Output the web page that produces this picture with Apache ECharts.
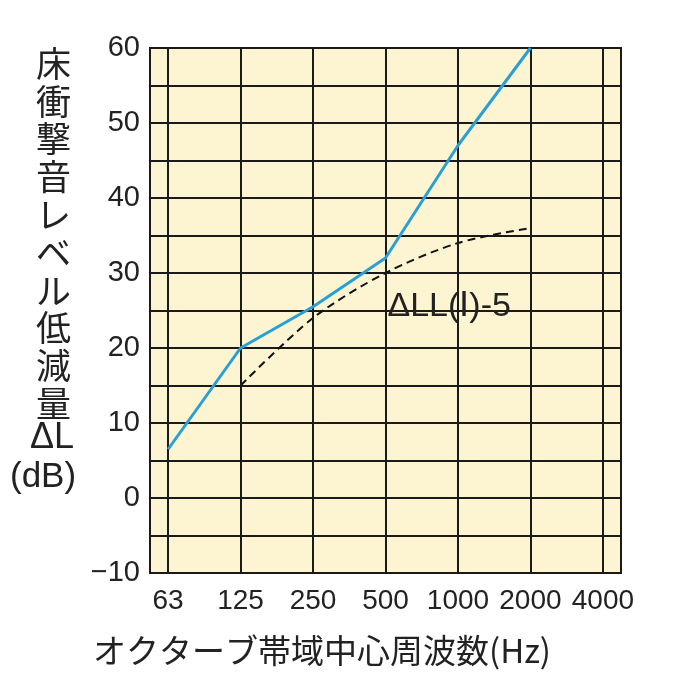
<!DOCTYPE html>
<html><head><meta charset="utf-8">
<script src="https://cdn.jsdelivr.net/npm/echarts@6/dist/echarts.min.js"></script>
<style>html,body{margin:0;padding:0;background:#fff}#c{width:700px;height:700px}</style>
</head><body><div id="c"></div>
<script>
const freqLabels = ['63','125','250','500','1000','2000','4000'];
const blueX = [0,1,2,3,4,5];
const blueY = [6.5,20,25.5,32,47,60];
const dashX = [1,2,3,4,5];
const dashY = [15,24,30,34,36];
const yTitle = ['床','衝','撃','音','レ','ベ','ル','低','減','量'];
const F = '"Noto Sans CJK JP", "Liberation Sans", sans-serif';
const chart = echarts.init(document.getElementById('c'));
const graphics = yTitle.map((ch,i)=>({type:'text',left:36,top:46+i*37.8,style:{text:ch,font:'35px '+F,fill:'#222'}}));
graphics.push({type:'text',left:30,top:420,style:{text:'ΔL',font:'36px "Liberation Sans", sans-serif',fill:'#222'}});
graphics.push({type:'text',left:10,top:460,style:{text:'(dB)',font:'35px "Liberation Sans", sans-serif',fill:'#222'}});
graphics.push({type:'text',left:93,top:634,style:{text:'オクターブ帯域中心周波数(Hz)',font:'33px '+F,fill:'#222'}});
chart.setOption({
  animation:false,
  graphic:graphics,
  grid:{left:150,right:79,top:48,bottom:127,show:true,backgroundColor:'#fdf5d2',borderColor:'#1a1a1a',borderWidth:2},
  xAxis:{type:'value',min:-0.25,max:6.25,axisLine:{show:false},axisTick:{show:false},axisLabel:{show:false},splitLine:{show:false}},
  yAxis:{type:'value',min:-10,max:60,interval:5,axisLine:{show:false},axisTick:{show:false},
    splitLine:{lineStyle:{color:'#1a1a1a',width:2}},
    axisLabel:{fontSize:29,color:'#222',fontFamily:'Liberation Sans',margin:10,
      formatter:v=>v%10===0?(v<0?'−'+Math.abs(v):String(v)):''}},
  series:[
    {type:'line',data:blueX.map((x,i)=>[x,blueY[i]]),symbol:'none',lineStyle:{color:'#2a9fd6',width:3},z:5,
     markLine:{silent:true,symbol:'none',animation:false,
       lineStyle:{color:'#1a1a1a',width:2,type:'solid'},
       label:{position:'start',distance:14,fontSize:28,color:'#222',fontFamily:'Liberation Sans',
         formatter:p=>freqLabels[p.value]},
       data:freqLabels.map((l,i)=>({xAxis:i}))}},
    {type:'line',data:dashX.map((x,i)=>[x,dashY[i]]),symbol:'none',smooth:0.3,lineStyle:{color:'#111',width:2,type:[8,5]},z:4,
     markPoint:{symbol:'circle',symbolSize:0,data:[{coord:[3.0,25.5]}],
       label:{show:true,formatter:'ΔLL(Ⅰ)-5',fontSize:34,color:'#222',fontFamily:'Liberation Sans',position:'right',offset:[-3,0]}}}
  ]
});
</script></body></html>
